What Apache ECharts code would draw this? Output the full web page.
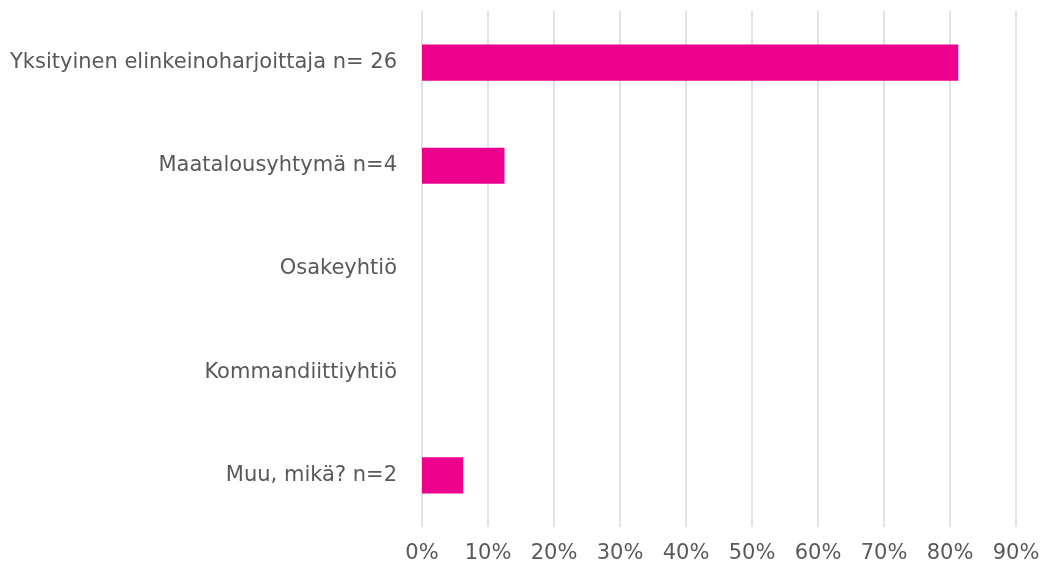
<!DOCTYPE html>
<html>
<head>
<meta charset="utf-8">
<script src="https://cdn.jsdelivr.net/npm/echarts@6/dist/echarts.min.js"></script>
<style>html,body{margin:0;padding:0;background:#fff}#c{width:1045px;height:568px}</style>
</head>
<body>
<div id="c"></div>
<script>
const categories = ["Yksityinen elinkeinoharjoittaja n= 26", "Maatalousyhtymä n=4", "Osakeyhtiö", "Kommandiittiyhtiö", "Muu, mikä? n=2"];
const values = [81.25, 12.5, 0, 0, 6.25];
const tickMax = 90;
const tickStep = 10;

const chart = echarts.init(document.getElementById('c'));
chart.setOption({
  animation: false,
  grid: { left: 422, right: 29, top: 11, bottom: 41, containLabel: false },
  xAxis: {
    type: 'value', min: 0, max: tickMax, interval: tickStep,
    axisLine: { show: false }, axisTick: { show: false },
    splitLine: { show: true, lineStyle: { color: '#d9d9d9', width: 1.5 } },
    axisLabel: { formatter: '{value}%', color: '#595959', fontFamily: 'DejaVu Sans', fontSize: 21, margin: 16 }
  },
  yAxis: {
    type: 'category', data: categories, inverse: true,
    axisLine: { show: false }, axisTick: { show: false },
    axisLabel: { color: '#595959', fontFamily: 'DejaVu Sans', fontSize: 21, margin: 25 }
  },
  series: [{
    type: 'bar', data: values, barWidth: '35%',
    itemStyle: { color: '#EC008C' }
  }]
});
</script>
</body>
</html>
